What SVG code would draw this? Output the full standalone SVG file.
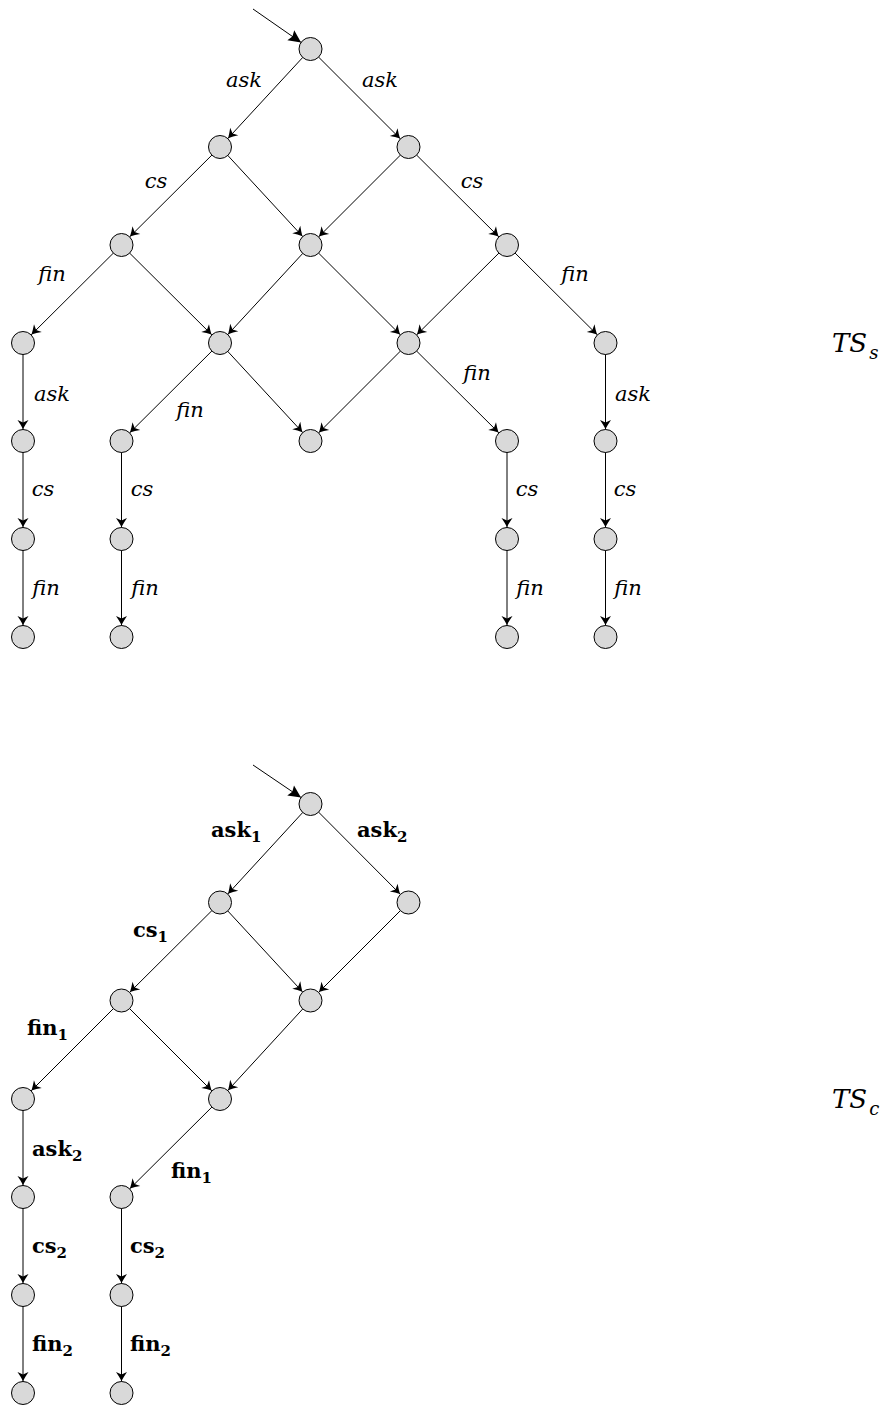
<svg xmlns="http://www.w3.org/2000/svg" width="887" height="1408" viewBox="0 0 887 1408">
<style>
.e{stroke:#000;stroke-width:1;fill:none;marker-end:url(#arr)}
.i{stroke:#000;stroke-width:1;fill:none;marker-end:url(#init)}
circle{fill:#d9d9d9;stroke:#000;stroke-width:1}
.it{font-family:"DejaVu Serif","Liberation Serif",serif;font-style:italic;font-size:21px}
.ts{font-family:"DejaVu Serif","Liberation Serif",serif;font-style:italic;font-size:26px}
.sub{font-size:18px}
.bf{font-family:"DejaVu Serif","Liberation Serif",serif;font-weight:bold;font-size:21px}
.bs{font-size:15px}
</style>
<defs>
<marker id="arr" markerUnits="userSpaceOnUse" viewBox="-30 -10 40 20" refX="0" refY="0" markerWidth="40" markerHeight="20" orient="auto">
<path d="M-12,0 C-15,-1.5 -18,-3.5 -21,-5.5 L-18.5,0 L-21,5.5 C-18,3.5 -15,1.5 -12,0 Z" fill="#000"/>
</marker>
<marker id="init" markerUnits="userSpaceOnUse" viewBox="-30 -10 40 20" refX="0" refY="0" markerWidth="40" markerHeight="20" orient="auto">
<path d="M-11.5,0 L-24,-6 L-22,0 L-24,6 Z" fill="#000"/>
</marker>
</defs>
<g id="connectors">
<line class="i" x1="253" y1="9" x2="310.5" y2="49"/>
<line class="e" x1="310.5" y1="49" x2="220" y2="147"/>
<line class="e" x1="310.5" y1="49" x2="408.5" y2="147"/>
<line class="e" x1="220" y1="147" x2="121.5" y2="245"/>
<line class="e" x1="220" y1="147" x2="310.5" y2="245"/>
<line class="e" x1="408.5" y1="147" x2="310.5" y2="245"/>
<line class="e" x1="408.5" y1="147" x2="507" y2="245"/>
<line class="e" x1="121.5" y1="245" x2="23" y2="343"/>
<line class="e" x1="121.5" y1="245" x2="220" y2="343"/>
<line class="e" x1="310.5" y1="245" x2="220" y2="343"/>
<line class="e" x1="310.5" y1="245" x2="408.5" y2="343"/>
<line class="e" x1="507" y1="245" x2="408.5" y2="343"/>
<line class="e" x1="507" y1="245" x2="605.5" y2="343"/>
<line class="e" x1="23" y1="343" x2="23" y2="441"/>
<line class="e" x1="220" y1="343" x2="121.5" y2="441"/>
<line class="e" x1="220" y1="343" x2="310.5" y2="441"/>
<line class="e" x1="408.5" y1="343" x2="310.5" y2="441"/>
<line class="e" x1="408.5" y1="343" x2="507" y2="441"/>
<line class="e" x1="605.5" y1="343" x2="605.5" y2="441"/>
<line class="e" x1="23" y1="441" x2="23" y2="539"/>
<line class="e" x1="121.5" y1="441" x2="121.5" y2="539"/>
<line class="e" x1="507" y1="441" x2="507" y2="539"/>
<line class="e" x1="605.5" y1="441" x2="605.5" y2="539"/>
<line class="e" x1="23" y1="539" x2="23" y2="637"/>
<line class="e" x1="121.5" y1="539" x2="121.5" y2="637"/>
<line class="e" x1="507" y1="539" x2="507" y2="637"/>
<line class="e" x1="605.5" y1="539" x2="605.5" y2="637"/>

<line class="i" x1="253" y1="765" x2="310.5" y2="804"/>
<line class="e" x1="310.5" y1="804" x2="220" y2="902.5"/>
<line class="e" x1="310.5" y1="804" x2="408.5" y2="902.5"/>
<line class="e" x1="220" y1="902.5" x2="121.5" y2="1000.5"/>
<line class="e" x1="220" y1="902.5" x2="310.5" y2="1000.5"/>
<line class="e" x1="408.5" y1="902.5" x2="310.5" y2="1000.5"/>
<line class="e" x1="121.5" y1="1000.5" x2="23" y2="1099"/>
<line class="e" x1="121.5" y1="1000.5" x2="220" y2="1099"/>
<line class="e" x1="310.5" y1="1000.5" x2="220" y2="1099"/>
<line class="e" x1="23" y1="1099" x2="23" y2="1197"/>
<line class="e" x1="220" y1="1099" x2="121.5" y2="1197"/>
<line class="e" x1="23" y1="1197" x2="23" y2="1295"/>
<line class="e" x1="121.5" y1="1197" x2="121.5" y2="1295"/>
<line class="e" x1="23" y1="1295" x2="23" y2="1393"/>
<line class="e" x1="121.5" y1="1295" x2="121.5" y2="1393"/>
</g>
<g id="edge-labels">
<text class="it" x="244" y="87" text-anchor="middle">ask</text>
<text class="it" x="380" y="87" text-anchor="middle">ask</text>
<text class="it" x="156" y="188" text-anchor="middle">cs</text>
<text class="it" x="472" y="188" text-anchor="middle">cs</text>
<text class="it" x="52" y="281" text-anchor="middle">fin</text>
<text class="it" x="575" y="281" text-anchor="middle">fin</text>
<text class="it" x="52" y="401" text-anchor="middle">ask</text>
<text class="it" x="190" y="417" text-anchor="middle">fin</text>
<text class="it" x="477" y="380" text-anchor="middle">fin</text>
<text class="it" x="633" y="401" text-anchor="middle">ask</text>
<text class="it" x="43" y="496" text-anchor="middle">cs</text>
<text class="it" x="142" y="496" text-anchor="middle">cs</text>
<text class="it" x="527" y="496" text-anchor="middle">cs</text>
<text class="it" x="625" y="496" text-anchor="middle">cs</text>
<text class="it" x="46" y="595" text-anchor="middle">fin</text>
<text class="it" x="145" y="595" text-anchor="middle">fin</text>
<text class="it" x="530" y="595" text-anchor="middle">fin</text>
<text class="it" x="628" y="595" text-anchor="middle">fin</text>
<text class="ts" x="832" y="352">TS<tspan class="sub" dx="2" dy="7">s</tspan></text>

<text class="bf" x="211" y="837">ask<tspan class="bs" dy="5">1</tspan></text>
<text class="bf" x="357" y="837">ask<tspan class="bs" dy="5">2</tspan></text>
<text class="bf" x="133" y="937">cs<tspan class="bs" dy="5">1</tspan></text>
<text class="bf" x="27" y="1035">fin<tspan class="bs" dy="5">1</tspan></text>
<text class="bf" x="32" y="1156">ask<tspan class="bs" dy="5">2</tspan></text>
<text class="bf" x="171" y="1178">fin<tspan class="bs" dy="5">1</tspan></text>
<text class="bf" x="32" y="1253">cs<tspan class="bs" dy="5">2</tspan></text>
<text class="bf" x="130" y="1253">cs<tspan class="bs" dy="5">2</tspan></text>
<text class="bf" x="32" y="1351">fin<tspan class="bs" dy="5">2</tspan></text>
<text class="bf" x="130" y="1351">fin<tspan class="bs" dy="5">2</tspan></text>
<text class="ts" x="832" y="1108">TS<tspan class="sub" dx="2" dy="7">c</tspan></text>
</g>
<g id="s0"><circle cx="310.5" cy="49" r="11.5"/></g>
<g id="s1a"><circle cx="220" cy="147" r="11.5"/></g>
<g id="s1b"><circle cx="408.5" cy="147" r="11.5"/></g>
<g id="s2a"><circle cx="121.5" cy="245" r="11.5"/></g>
<g id="s2b"><circle cx="310.5" cy="245" r="11.5"/></g>
<g id="s2c"><circle cx="507" cy="245" r="11.5"/></g>
<g id="s3a"><circle cx="23" cy="343" r="11.5"/></g>
<g id="s3b"><circle cx="220" cy="343" r="11.5"/></g>
<g id="s3c"><circle cx="408.5" cy="343" r="11.5"/></g>
<g id="s3d"><circle cx="605.5" cy="343" r="11.5"/></g>
<g id="s4a"><circle cx="23" cy="441" r="11.5"/></g>
<g id="s4b"><circle cx="121.5" cy="441" r="11.5"/></g>
<g id="s4c"><circle cx="310.5" cy="441" r="11.5"/></g>
<g id="s4d"><circle cx="507" cy="441" r="11.5"/></g>
<g id="s4e"><circle cx="605.5" cy="441" r="11.5"/></g>
<g id="s5a"><circle cx="23" cy="539" r="11.5"/></g>
<g id="s5b"><circle cx="121.5" cy="539" r="11.5"/></g>
<g id="s5c"><circle cx="507" cy="539" r="11.5"/></g>
<g id="s5d"><circle cx="605.5" cy="539" r="11.5"/></g>
<g id="s6a"><circle cx="23" cy="637" r="11.5"/></g>
<g id="s6b"><circle cx="121.5" cy="637" r="11.5"/></g>
<g id="s6c"><circle cx="507" cy="637" r="11.5"/></g>
<g id="s6d"><circle cx="605.5" cy="637" r="11.5"/></g>

<g id="c0"><circle cx="310.5" cy="804" r="11.5"/></g>
<g id="c1a"><circle cx="220" cy="902.5" r="11.5"/></g>
<g id="c1b"><circle cx="408.5" cy="902.5" r="11.5"/></g>
<g id="c2a"><circle cx="121.5" cy="1000.5" r="11.5"/></g>
<g id="c2b"><circle cx="310.5" cy="1000.5" r="11.5"/></g>
<g id="c3a"><circle cx="23" cy="1099" r="11.5"/></g>
<g id="c3b"><circle cx="220" cy="1099" r="11.5"/></g>
<g id="c4a"><circle cx="23" cy="1197" r="11.5"/></g>
<g id="c4b"><circle cx="121.5" cy="1197" r="11.5"/></g>
<g id="c5a"><circle cx="23" cy="1295" r="11.5"/></g>
<g id="c5b"><circle cx="121.5" cy="1295" r="11.5"/></g>
<g id="c6a"><circle cx="23" cy="1393" r="11.5"/></g>
<g id="c6b"><circle cx="121.5" cy="1393" r="11.5"/></g>
</svg>
